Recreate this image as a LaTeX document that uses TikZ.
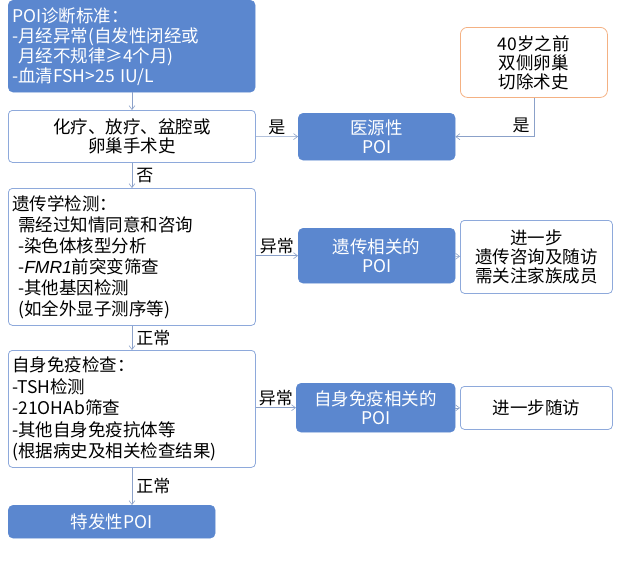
\documentclass[tikz,border=0pt]{standalone}
\usepackage{fontspec}
\setmainfont{Noto Sans CJK SC}
\newfontfamily\latinit{Liberation Sans}
\usetikzlibrary{arrows.meta}
\definecolor{bl}{HTML}{5B87CF}
\definecolor{bd}{HTML}{8EA9DB}
\definecolor{og}{HTML}{F4B183}
\begin{document}
\begin{tikzpicture}[x=1pt,y=-1pt,
  bluebox/.style={draw=bl,fill=bl,rounded corners=5pt,text=white,font=\fontsize{17.5}{19}\selectfont,align=center,inner sep=1pt},
  wbox/.style={draw=bd,line width=0.8pt,rounded corners=4pt,font=\fontsize{17.5}{19}\selectfont,inner sep=1pt},
  lbox/.style={text width=239pt,inner xsep=4pt,align=left},
  arr/.style={draw=bd!80!gray,line width=0.6pt,-{Straight Barb[length=4pt,width=6pt]}},
  lab/.style={font=\fontsize{17}{19}\selectfont,inner sep=1pt}]
\useasboundingbox (0,0) rectangle (617,560);
\node[bluebox,lbox,minimum height=92,anchor=north west,font=\fontsize{17.5}{20}\selectfont] (b1) at (8,0) {POI诊断标准：\\-月经异常(自发性闭经或\\\ 月经不规律≥4个月)\\-血清FSH>25 IU/L};
\node[wbox,minimum width=247,minimum height=52,align=center,anchor=north west] (b2) at (8,110) {化疗、放疗、盆腔或\\卵巢手术史};
\node[bluebox,minimum width=157,minimum height=47,anchor=north west] (iat) at (298,113) {医源性\\POI};
\node[wbox,draw=og,rounded corners=7pt,minimum width=147,minimum height=70,align=center,anchor=north west] (old) at (460,27) {40岁之前\\双侧卵巢\\切除术史};
\node[wbox,lbox,minimum height=137,anchor=north west,font=\fontsize{17.5}{21}\selectfont] (b3) at (8,188) {遗传学检测：\\\ 需经过知情同意和咨询\\\ -染色体核型分析\\\ -{\latinit\itshape FMR1}前突变筛查\\\ -其他基因检测\\\ (如全外显子测序等)};
\node[bluebox,minimum width=157,minimum height=55,anchor=north west] (gen) at (298,228) {遗传相关的\\POI};
\node[wbox,minimum width=152,minimum height=73,align=center,anchor=north west] (fu1) at (460,220) {进一步\\遗传咨询及随访\\需关注家族成员};
\node[wbox,lbox,minimum height=117,anchor=north west,font=\fontsize{17.5}{21.5}\selectfont] (b4) at (8,350) {自身免疫检查：\\-TSH检测\\-21OHAb筛查\\-其他自身免疫抗体等\\(根据病史及相关检查结果)};
\node[bluebox,minimum width=159,minimum height=49,anchor=north west] (aut) at (296,383) {自身免疫相关的\\POI};
\node[wbox,minimum width=152,minimum height=43,anchor=north west] (fu2) at (460,386) {进一步随访};
\node[bluebox,minimum width=207,minimum height=33,anchor=north west] (idio) at (8,505) {特发性POI};
\draw[arr] (b1.south -| 132,0) -- (b2.north -| 132,0);
\draw[arr] (b2) -- node[lab,above] {是} (iat);
\draw[arr] (old.south) |- node[lab,pos=0.35,left=3pt] {是} (iat.east);
\draw[arr] (b2.south -| 132,0) -- node[lab,right=3pt] {否} (b3.north -| 132,0);
\draw[arr] (b3.east |- gen) -- node[lab,above] {异常} (gen);
\draw[arr] (gen) -- (fu1);
\draw[arr] (b3.south -| 132,0) -- node[lab,right=3pt] {正常} (b4.north -| 132,0);
\draw[arr] (b4.east |- aut) -- node[lab,above] {异常} (aut);
\draw[arr] (aut.east |- fu2) -- (fu2);
\draw[arr] (b4.south -| 132,0) -- node[lab,right=3pt] {正常} (idio.north -| 132,0);
\end{tikzpicture}
\end{document}
